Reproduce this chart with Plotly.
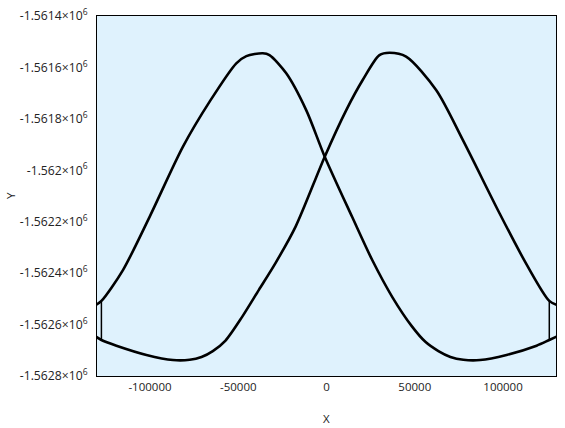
import plotly.graph_objects as go

# Curve A: left-lower -> bottom -> crossing -> right peak -> right-upper
curve_a_x = [-131000, -127500, -119000, -102000, -87000, -77500, -70800, -64400, -57200, -47700,
             -38300, -28900, -17500, -1000, 11200, 20500, 30000, 35700, 45100, 62100,
             77200, 98000, 113000, 126200, 131000]
curve_a_y = [-1562645, -1562660, -1562682, -1562718, -1562738, -1562737, -1562726, -1562703, -1562662, -1562569,
             -1562465, -1562361, -1562219, -1561947, -1561766, -1561649, -1561552, -1561543, -1561558, -1561688,
             -1561882, -1562167, -1562362, -1562508, -1562525]

# Curve B: left-upper -> left peak -> crossing -> bottom -> right-lower
curve_b_x = [-131000, -127500, -115300, -100200, -81300, -66200, -51100, -45400, -36100,
             -32300, -22800, -11500, -1000, 14500, 25900, 37200, 48500, 56000, 63400, 70200,
             77500, 87000, 102000, 119000, 126200, 131000]
curve_b_y = [-1562525, -1562508, -1562388, -1562181, -1561908, -1561733, -1561584, -1561556, -1561545,
             -1561552, -1561623, -1561766, -1561947, -1562181, -1562349, -1562492, -1562608, -1562667, -1562703, -1562726,
             -1562737, -1562738, -1562718, -1562682, -1562660, -1562645]

# Vertical connectors where the path wraps
conn_x = [-127500, -127500, None, 126200, 126200]
conn_y = [-1562508, -1562660, None, -1562508, -1562660]

y_tickvals = [-1561400, -1561600, -1561800, -1562000, -1562200, -1562400, -1562600, -1562800]
y_ticktext = ["-1.5614×10<sup>6</sup>", "-1.5616×10<sup>6</sup>", "-1.5618×10<sup>6</sup>",
              "-1.562×10<sup>6</sup>", "-1.5622×10<sup>6</sup>", "-1.5624×10<sup>6</sup>",
              "-1.5626×10<sup>6</sup>", "-1.5628×10<sup>6</sup>"]
x_tickvals = [-100000, -50000, 0, 50000, 100000]
x_ticktext = ["-100000", "-50000", "0", "50000", "100000"]

fig = go.Figure()
for xs, ys, w, shape in [(curve_a_x, curve_a_y, 2.6, "spline"), (curve_b_x, curve_b_y, 2.6, "spline"),
                         (conn_x, conn_y, 1.5, "linear")]:
    fig.add_trace(go.Scatter(x=xs, y=ys, mode="lines",
                             line=dict(color="black", width=w, shape=shape, smoothing=0.8),
                             connectgaps=False, showlegend=False, hoverinfo="skip"))

axis_common = dict(showgrid=False, zeroline=False, showline=True, linecolor="black", linewidth=1,
                   mirror=True, ticks="", automargin=False, ticklabeloverflow="allow")
fig.update_layout(
    width=565, height=428,
    margin=dict(l=97, r=9, t=16, b=52),
    paper_bgcolor="white", plot_bgcolor="#dff2fd",
    font=dict(family="Open Sans", size=11, color="#222"),
    xaxis=dict(range=[-130000, 130000], tickvals=x_tickvals, ticktext=x_ticktext,
               tickfont=dict(family="Open Sans", size=11.5, color="#222"), **axis_common),
    yaxis=dict(range=[-1562800, -1561400], tickvals=y_tickvals, ticktext=y_ticktext,
               ticklabelstandoff=6,
               tickfont=dict(family="Open Sans", size=12.2, color="#222"), **axis_common),
    annotations=[
        dict(text="Y", xref="paper", yref="paper", x=-0.1895, y=0.5, showarrow=False,
             textangle=-90, xanchor="center", yanchor="middle",
             font=dict(family="Open Sans", size=11.5, color="#222")),
        dict(text="X", xref="paper", yref="paper", x=0.5, y=-0.1167, showarrow=False,
             xanchor="center", yanchor="middle",
             font=dict(family="Open Sans", size=11.5, color="#222")),
    ],
)
fig.write_html("out.html", config={"displayModeBar": False},
               post_script="document.body.style.margin='0';document.body.style.overflow='hidden';")
